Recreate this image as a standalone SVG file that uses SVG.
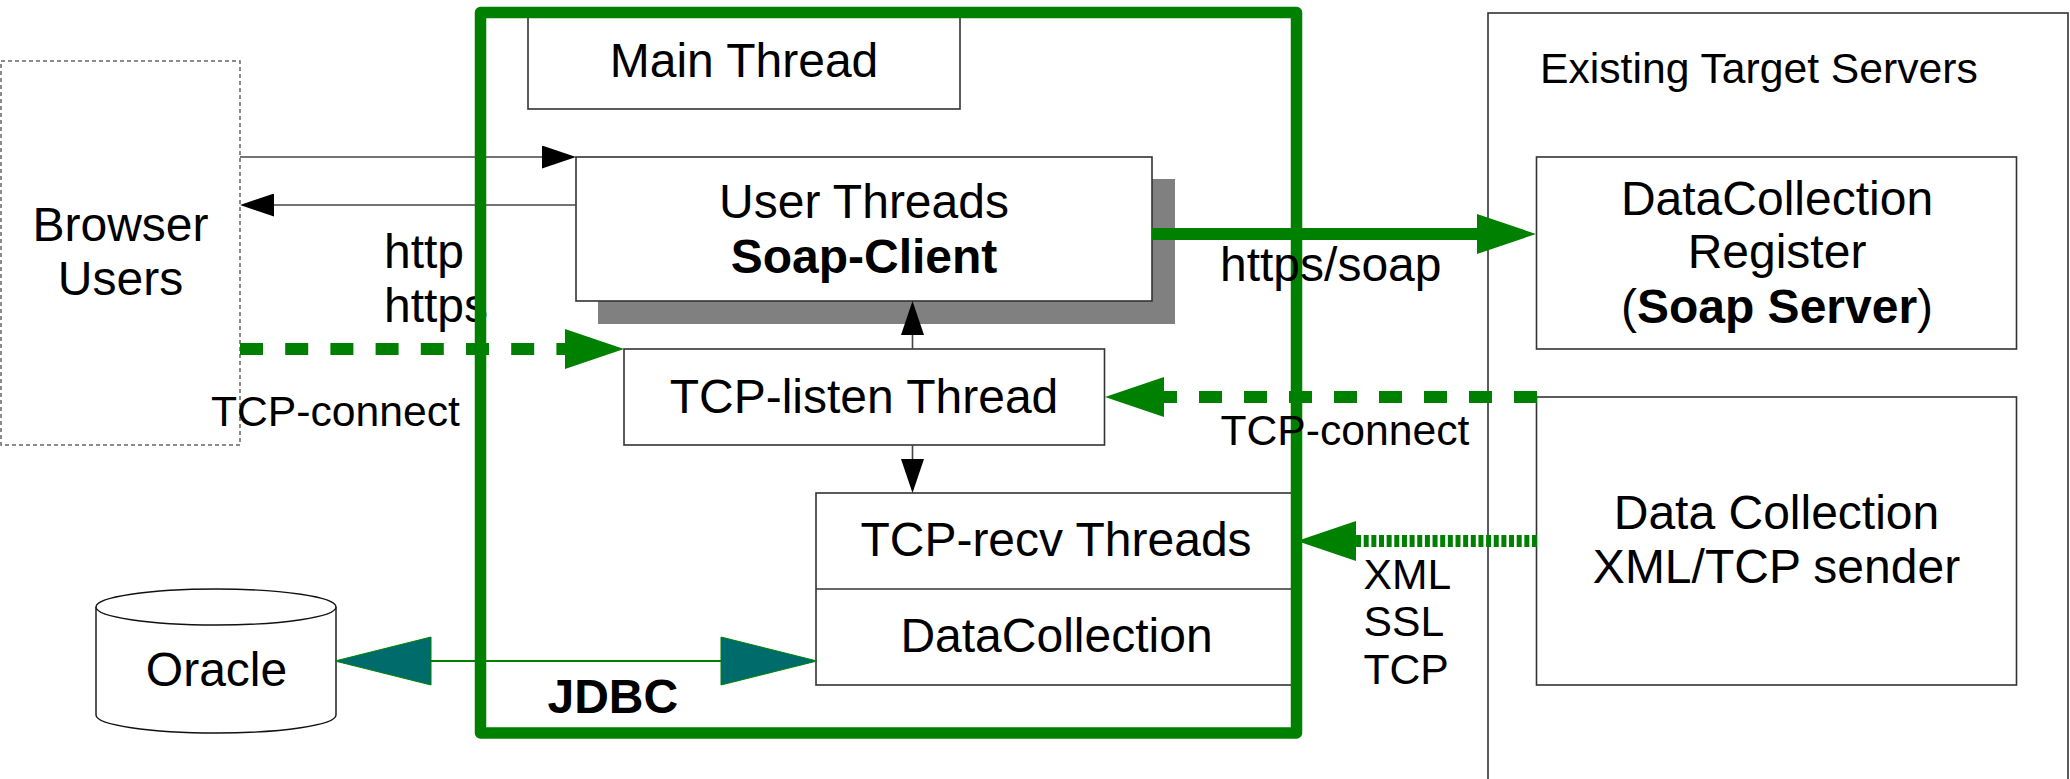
<svg xmlns="http://www.w3.org/2000/svg" width="2070" height="779" viewBox="0 0 2070 779">
<style>
text{font-family:"Liberation Sans",Arial,sans-serif;fill:#000;font-size:48px}
.c{text-anchor:middle}
.s{font-size:42.67px}
.b{font-weight:700}
.box{fill:#fff;stroke:#333;stroke-width:1.6}
.thin{fill:none;stroke:#444;stroke-width:1.6}
.g{fill:none;stroke:#008000;stroke-width:12}
</style>
<defs>
<marker id="gh" markerUnits="userSpaceOnUse" markerWidth="59" markerHeight="40" refX="0" refY="20" orient="auto"><path d="M0 0L59 20L0 40Z" fill="#008000"/></marker>
<marker id="kh" markerUnits="userSpaceOnUse" markerWidth="34" markerHeight="23" refX="0" refY="11.5" orient="auto"><path d="M0 0L34 11.5L0 23Z" fill="#000"/></marker>
<marker id="th" markerUnits="userSpaceOnUse" markerWidth="98" markerHeight="50" refX="1" refY="25" orient="auto-start-reverse"><path d="M1 1L97 25L1 49Z" fill="#006b6b" stroke="#008000" stroke-width="1"/></marker>
</defs>
<g id="target-servers"><rect class="box" x="1488" y="13" width="580" height="790" stroke="#111"/><text class="s" x="1540" y="83">Existing Target Servers</text></g>
<g id="browser-users"><rect x="1" y="61" width="239" height="384" fill="#fff" stroke="#666" stroke-width="1.5" stroke-dasharray="4 3"/><text class="c" x="120.500" y="241">Browser</text><text class="c" x="120.500" y="295">Users</text></g>
<g id="main-thread"><rect class="box" x="528" y="12" width="432" height="97"/><text class="c" x="744" y="77">Main Thread</text></g>
<g id="user-threads"><rect x="598" y="179" width="577" height="145" fill="#808080"/><rect class="box" x="576" y="157" width="576" height="144"/><text class="c" x="864" y="218">User Threads</text><text class="c b" x="864" y="272.500">Soap-Client</text></g>
<g id="tcp-listen"><rect class="box" x="624" y="349" width="480.500" height="96"/><text class="c" x="864" y="412.500">TCP-listen Thread</text></g>
<g id="tcp-recv"><rect class="box" x="816" y="493" width="480" height="192"/><path class="box" d="M816 589H1296"/><text class="c" x="1056" y="556">TCP-recv Threads</text><text class="c" x="1056.500" y="652">DataCollection</text></g>
<g id="oracle"><path d="M96 607V715C96 725 150 733 216 733S336 725 336 715V607" fill="#fff" stroke="#111" stroke-width="1.400"/><ellipse cx="216" cy="607" rx="120" ry="18" fill="#fff" stroke="#111" stroke-width="1.400"/><text class="c" x="216.500" y="686">Oracle</text></g>
<g id="data-collection-register"><rect class="box" x="1536.500" y="157" width="480" height="192"/><text class="c" x="1777" y="215">DataCollection</text><text class="c" x="1777" y="268">Register</text><text class="c" x="1777" y="323">(<tspan class="b">Soap Server</tspan>)</text></g>
<g id="data-collection-sender"><rect class="box" x="1536.500" y="397" width="480" height="288"/><text class="c" x="1776.500" y="529">Data Collection</text><text class="c" x="1776.500" y="583">XML/TCP sender</text></g>
<g id="connectors">
<path class="thin" d="M240 157H542" marker-end="url(#kh)"/>
<path class="thin" d="M576 205H274" marker-end="url(#kh)"/>
<path class="thin" d="M912.500 349V335" marker-end="url(#kh)"/>
<path class="thin" d="M912.500 445V459" marker-end="url(#kh)"/>
<path class="g" d="M240 349H565" stroke-dasharray="23 22.200" marker-end="url(#gh)"/>
<path class="g" d="M1152 234H1477" marker-end="url(#gh)"/>
<path class="g" d="M1537 397H1164" stroke-dasharray="23 22" marker-end="url(#gh)"/>
<path class="g" d="M1537 541H1356" stroke-dasharray="5 2.650" marker-end="url(#gh)"/>
<path d="M431 661H721" fill="none" stroke="#008000" stroke-width="2" marker-start="url(#th)" marker-end="url(#th)"/>
</g>
<g id="http-label"><text x="384" y="268">http</text><text x="384" y="322">https</text></g>
<g id="app-frame"><rect x="480.500" y="12.500" width="816" height="720.500" fill="none" stroke="#008000" stroke-width="11.500" stroke-linejoin="round"/></g>
<g id="labels">
<text class="s" x="211" y="426">TCP-connect</text>
<text x="1220" y="280.500">https/soap</text>
<text class="s" x="1220.500" y="444.500">TCP-connect</text>
<text class="s" x="1363.500" y="589">XML</text>
<text class="s" x="1363.500" y="635.500">SSL</text>
<text class="s" x="1363.500" y="683.500">TCP</text>
<text class="b" x="547.500" y="713">JDBC</text>
</g>
</svg>
